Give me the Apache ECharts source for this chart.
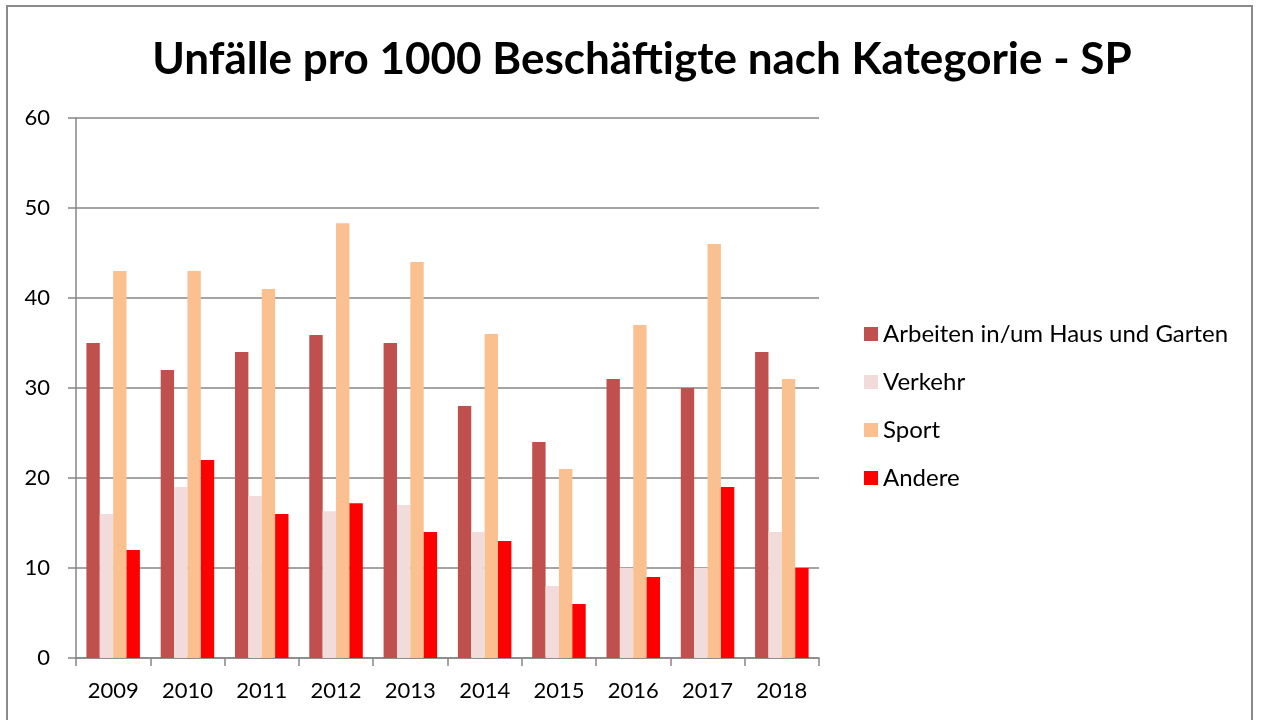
<!DOCTYPE html>
<html>
<head>
<meta charset="utf-8">
<script src="https://cdn.jsdelivr.net/npm/echarts@6/dist/echarts.min.js"></script>
<style>
  html, body { margin: 0; padding: 0; background: #fff; }
  #main { width: 1266px; height: 720px; }
</style>
</head>
<body>
<div id="main"></div>
<script>
var years = ['2009', '2010', '2011', '2012', '2013', '2014', '2015', '2016', '2017', '2018'];
var arbeiten = [35, 32, 34, 35.9, 35, 28, 24, 31, 30, 34];
var verkehr = [16, 19, 18, 16.3, 17, 14, 8, 10, 10, 14];
var sport = [43, 43, 41, 48.3, 44, 36, 21, 37, 46, 31];
var andere = [12, 22, 16, 17.2, 14, 13, 6, 9, 19, 10];

var seriesNames = ['Arbeiten in/um Haus und Garten', 'Verkehr', 'Sport', 'Andere'];
var colors = ['#c0504d', '#f2dcdb', '#fac090', '#ff0000'];

var font = 'Lato, "Open Sans", sans-serif';
var myChart = echarts.init(document.getElementById('main'));

function bar(name, data, color) {
	return {
		name: name,
		type: 'bar',
		data: data,
		barGap: '0%',
		barCategoryGap: '28%',
		itemStyle: { color: color },
		emphasis: { disabled: true }
	};
}

var option = {
	animation: false,
	color: colors,
	textStyle: { fontFamily: font },
	title: {
		text: 'Unfälle pro 1000 Beschäftigte nach Kategorie - SP',
		left: 637,
		textAlign: 'center',
		top: 33,
		textStyle: { fontFamily: font, fontSize: 44, fontWeight: 'bold', color: '#000' }
	},
	legend: {
		orient: 'vertical',
		left: 859,
		top: 317,
		itemWidth: 14,
		itemHeight: 14,
		itemGap: 24,
		icon: 'rect',
		textStyle: { fontFamily: font, fontSize: 24, color: '#000' },
		data: seriesNames
	},
	grid: { left: 76, right: 447, top: 118, bottom: 62, containLabel: false },
	xAxis: {
		type: 'category',
		data: years,
		axisLine: { lineStyle: { color: '#868686', width: 1.5 } },
		axisTick: { show: true, length: 8, alignWithLabel: false, lineStyle: { color: '#868686', width: 1.5 } },
		axisLabel: { fontFamily: font, fontSize: 22, color: '#000', margin: 22 }
	},
	yAxis: {
		type: 'value',
		min: 0,
		max: 60,
		interval: 10,
		axisLine: { show: true, lineStyle: { color: '#868686', width: 1.5 } },
		axisTick: { show: true, length: 8, lineStyle: { color: '#868686', width: 1.5 } },
		axisLabel: { fontFamily: font, fontSize: 22, color: '#000', margin: 26 },
		splitLine: { show: true, lineStyle: { color: '#868686', width: 1.5 } }
	},
	graphic: [{
		type: 'rect',
		shape: { x: 7, y: 6, width: 1245, height: 800 },
		style: { fill: 'none', stroke: '#8a8a8a', lineWidth: 2 },
		silent: true
	}],
	series: [
		bar(seriesNames[0], arbeiten, colors[0]),
		bar(seriesNames[1], verkehr, colors[1]),
		bar(seriesNames[2], sport, colors[2]),
		bar(seriesNames[3], andere, colors[3])
	]
};
myChart.setOption(option);
</script>
</body>
</html>
